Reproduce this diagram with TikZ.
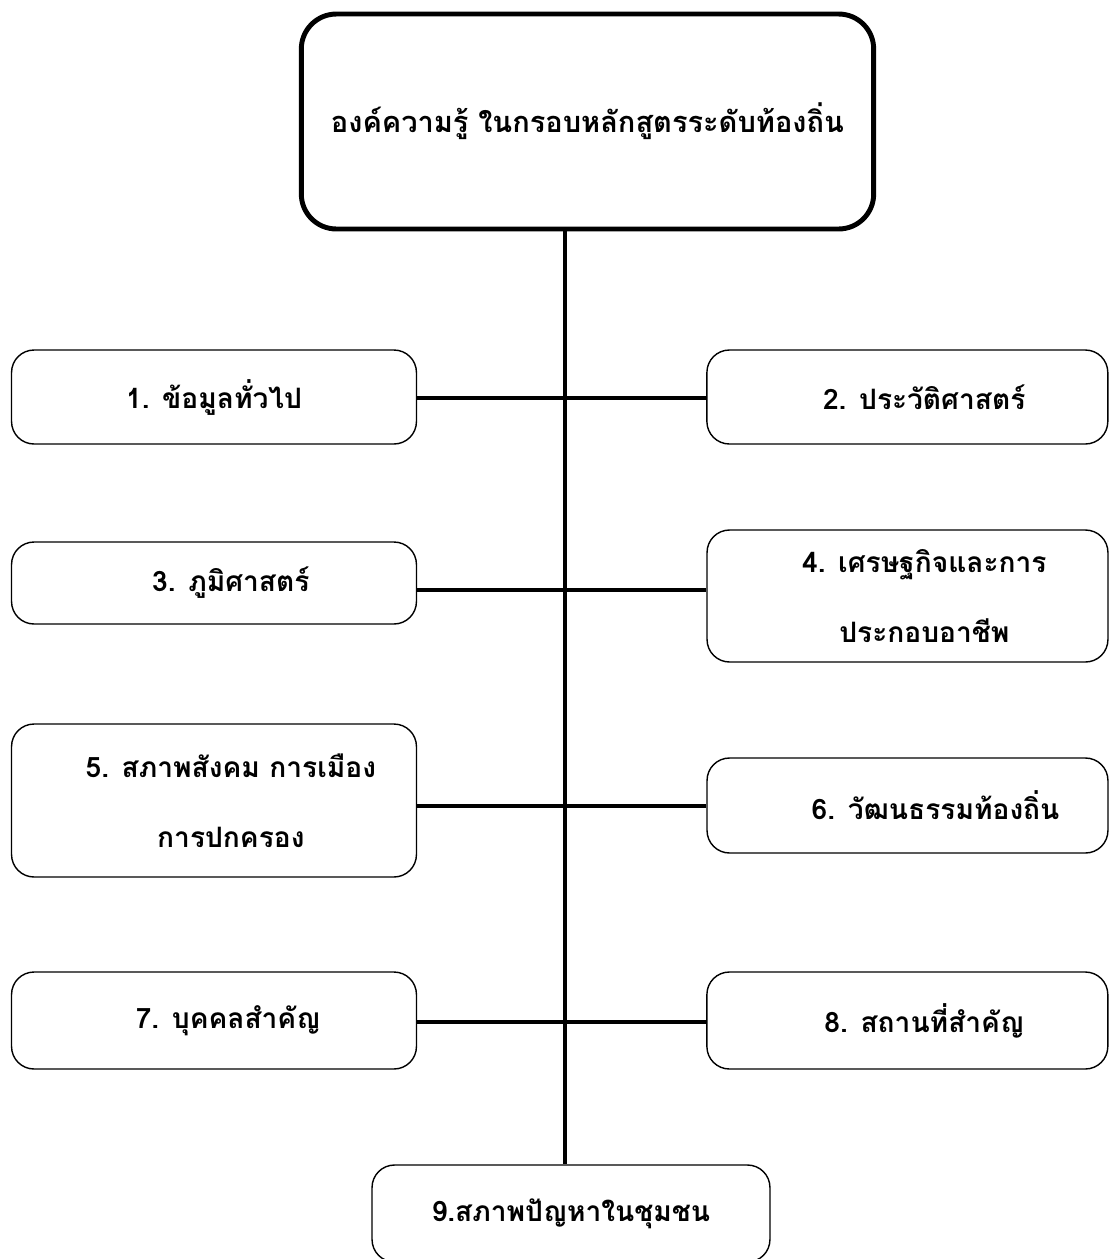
\documentclass[tikz,border=0pt]{standalone}
\usepackage{fontspec}
\newfontfamily\thaifont[Script=Thai]{Loma}
\usetikzlibrary{positioning}

\begin{document}
\begin{tikzpicture}[x=0.02cm,y=-0.02cm,node distance=13.87cm,on grid,
		topic/.style={draw,rounded corners=0.45cm,line width=0.8pt,align=center,inner sep=0pt,
			minimum width=8.1cm,font=\thaifont\bfseries\fontsize{16}{40}\selectfont},
		head/.style={draw,rounded corners=0.7cm,line width=2.8pt,align=center,inner sep=0pt,
			minimum width=11.45cm,minimum height=4.3cm,font=\thaifont\bfseries\fontsize{16.5}{22}\selectfont},
		trunk/.style={line width=2.1pt},
		branch/.style={line width=2.4pt}]
			\useasboundingbox (0,0) rectangle (1110,1259);
			\node[head] (0) at (587.5,121.5) {องค์ความรู้ ในกรอบหลักสูตรระดับท้องถิ่น};
			\node[topic,minimum height=1.88cm] (1) at (214,397) {1. ข้อมูลทั่วไป};
			\node[topic,minimum height=1.88cm,minimum width=8.02cm] (2) [right=of 1] {\hspace*{1.2em}2. ประวัติศาสตร์};
			\node[topic,minimum height=1.64cm] (3) at (214,583) {\hspace*{1.2em}3. ภูมิศาสตร์};
			\node[topic,minimum height=2.64cm,minimum width=8.02cm] (4) at (907.5,596) {\hspace*{1.2em}4. เศรษฐกิจและการ\\\hspace*{1.2em}ประกอบอาชีพ};
			\node[topic,minimum height=3.06cm] (5) at (214,800.5) {\hspace*{1.2em}5. สภาพสังคม การเมือง\\\hspace*{1.2em}การปกครอง};
			\node[topic,minimum height=1.9cm,minimum width=8.02cm] (6) at (907.5,805.5) {\hspace*{2em}6. วัฒนธรรมท้องถิ่น};
			\node[topic,minimum height=1.94cm] (7) at (214,1020.5) {\hspace*{1em}7. บุคคลสำคัญ};
			\node[topic,minimum height=1.94cm,minimum width=8.02cm] (8) [right=of 7] {\hspace*{1.2em}8. สถานที่สำคัญ};
			\node[topic,minimum height=1.94cm,minimum width=7.96cm] (9) at (571,1213.5) {9.สภาพปัญหาในชุมชน};
			% spine and joints
			\coordinate (s) at (565,0);
			\coordinate (j1) at (565,398);
			\coordinate (j2) at (565,590);
			\coordinate (j3) at (565,806);
			\coordinate (j4) at (565,1022);
				\draw[trunk] (0.south -| s) -- (9.north -| s);
				\draw[branch] (1.east |- j1) -- (2.west |- j1);
				\draw[branch] (3.east |- j2) -- (4.west |- j2);
				\draw[branch] (5.east |- j3) -- (6.west |- j3);
				\draw[branch] (7.east |- j4) -- (8.west |- j4);
		\end{tikzpicture}
\end{document}
